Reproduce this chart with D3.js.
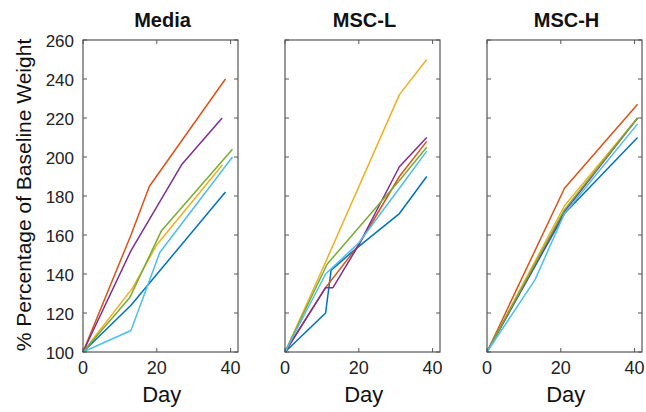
<!DOCTYPE html>
<html>
<head>
<meta charset="UTF-8">
<script src="https://d3js.org/d3.v7.min.js"></script>
<style>
  body { margin: 0; background: #fff; }
  svg { display: block; font-family: 'Liberation Sans', Arial, sans-serif; }
</style>
</head>
<body>
<svg id="chart" width="646" height="412"></svg>
<script>
  // panels and series: [day, % of baseline]
  const panelTitles = ["Media", "MSC-L", "MSC-H"];
  const seriesColors = ["#0072BD", "#D95319", "#EDB120", "#7E2F8E", "#77AC30", "#4DBEEE"];
  const yTicks = [100, 120, 140, 160, 180, 200, 220, 240, 260];
  const xTicks = [0, 20, 40];

  const mediaSeries = [
    [[0,100],[13,124],[38.6,182]],                       // blue
    [[0,100],[13,160],[18,185],[38.6,240]],              // orange
    [[0,100],[13.5,133],[20,155],[37.8,196]],            // yellow
    [[0,100],[13,152],[26.7,196],[37.7,220]],            // purple
    [[0,100],[12.7,128],[21.2,162],[40.5,204]],          // green
    [[0,100],[13,111],[20.8,151],[40.5,200]]             // light blue
  ];
  const mscLSeries = [
    [[0,100],[11,120],[12.5,142],[18.6,152],[31,171],[38.4,190]],
    [[0,100],[11,133],[20,155],[31,190],[38.4,208]],
    [[0,100],[10.5,144],[31,232],[38.4,250]],
    [[0,100],[11,133],[13,133],[20,155],[31,195],[38.4,210]],
    [[0,100],[11.4,145],[31,188],[38.4,205]],
    [[0,100],[11,140],[20,156],[31,184],[38.4,203]]
  ];
  const mscHSeries = [
    [[0,100],[21,171],[40.8,210]],
    [[0,100],[21,184],[40.8,227]],
    [[0,100],[21,175],[40.8,220]],
    [[0,100],[21,172],[40.8,220]],
    [[0,100],[21,173],[40.8,220]],
    [[0,100],[13,137],[21,171],[40.8,217]]
  ];
  const panelData = [mediaSeries, mscLSeries, mscHSeries];

  const svg = d3.select("#chart");
  const panelLeft = [83, 285, 487];
  const panelW = 155, plotTop = 40, plotBottom = 352;

  const y = d3.scaleLinear().domain([100, 260]).range([plotBottom, plotTop]);

  panelData.forEach((series, i) => {
    const x = d3.scaleLinear().domain([0, 42]).range([panelLeft[i], panelLeft[i] + panelW]);
    const g = svg.append("g");

    // lines
    const line = d3.line().x(d => x(d[0])).y(d => y(d[1]));
    g.selectAll("path.series")
      .data(series)
      .join("path")
      .attr("class", "series")
      .attr("fill", "none")
      .attr("stroke", (d, k) => seriesColors[k])
      .attr("stroke-width", 1.5)
      .attr("stroke-linejoin", "round")
      .attr("d", line);

    // box
    g.append("rect")
      .attr("x", x(0)).attr("y", plotTop)
      .attr("width", panelW).attr("height", plotBottom - plotTop)
      .attr("fill", "none").attr("stroke", "#555").attr("stroke-width", 1.2);

    // inward ticks
    const tl = 4;
    yTicks.forEach(t => {
      g.append("line").attr("x1", x(0)).attr("x2", x(0) + tl).attr("y1", y(t)).attr("y2", y(t)).attr("stroke", "#555");
      g.append("line").attr("x1", x(0) + panelW).attr("x2", x(0) + panelW - tl).attr("y1", y(t)).attr("y2", y(t)).attr("stroke", "#555");
    });
    xTicks.forEach(t => {
      g.append("line").attr("x1", x(t)).attr("x2", x(t)).attr("y1", plotBottom).attr("y2", plotBottom - tl).attr("stroke", "#555");
      g.append("line").attr("x1", x(t)).attr("x2", x(t)).attr("y1", plotTop).attr("y2", plotTop + tl).attr("stroke", "#555");
      g.append("text").attr("x", x(t)).attr("y", plotBottom + 22)
        .attr("text-anchor", "middle").attr("font-size", 18).attr("fill", "#222").text(t);
    });

    if (i === 0) {
      yTicks.forEach(t => {
        g.append("text").attr("x", x(0) - 9).attr("y", y(t) + 6.5)
          .attr("text-anchor", "end").attr("font-size", 17).attr("fill", "#222").text(t);
      });
    }

    g.append("text").attr("x", x(0) + panelW / 2 + 2).attr("y", 27)
      .attr("text-anchor", "middle").attr("font-size", 20).attr("font-weight", "bold")
      .attr("fill", "#111").text(panelTitles[i]);

    g.append("text").attr("x", x(20) + 5).attr("y", 402)
      .attr("text-anchor", "middle").attr("font-size", 22).attr("fill", "#111").text("Day");
  });

  svg.append("text")
    .attr("transform", "translate(31, 195) rotate(-90)")
    .attr("text-anchor", "middle").attr("font-size", 21).attr("fill", "#111")
    .text("% Percentage of Baseline Weight");
</script>
</body>
</html>
